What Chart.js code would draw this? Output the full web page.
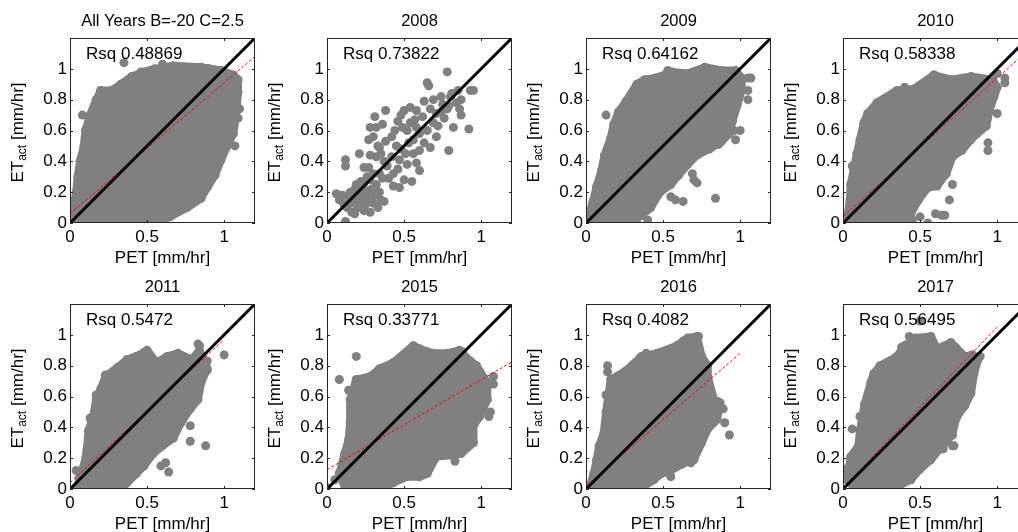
<!DOCTYPE html>
<html>
<head>
<meta charset="utf-8">
<script src="https://cdn.jsdelivr.net/npm/chart.js@4.4.1/dist/chart.umd.min.js"></script>
<style>
  html, body { margin: 0; padding: 0; background: #fff; }
  #wrap { position: relative; width: 1018px; height: 532px; overflow: hidden; }
  #wrap canvas { position: absolute; }
</style>
</head>
<body>
<div id="wrap"></div>
<script>
// ─── Data ──────────────────────────────────────────────────────────────────
const titles = ["All Years B=-20 C=2.5", "2008", "2009", "2010", "2011", "2015", "2016", "2017"];
const rsqValues = ["0.48869", "0.73822", "0.64162", "0.58338", "0.5472", "0.33771", "0.4082", "0.56495"];
const xTicks = [0, 0.5, 1];
const yTicks = [0, 0.2, 0.4, 0.6, 0.8, 1];
const identity = [[0, 0], [1.2, 1.2]];

// Dense point clouds: outline of the solid region (PET, ETact), plus loose points.
const cloudAll = [[0.02,0.0],[0.3,0.0],[0.55,0.0],[0.65,0.04],[0.76,0.10],[0.85,0.16],[0.89,0.23],[0.94,0.31],[0.98,0.41],[1.02,0.50],[1.06,0.58],[1.08,0.73],[1.09,0.85],[1.09,0.93],[1.06,0.96],[0.98,0.99],[0.85,1.01],[0.67,1.02],[0.55,1.0],[0.48,0.98],[0.40,0.95],[0.33,0.90],[0.27,0.86],[0.20,0.86],[0.17,0.80],[0.13,0.70],[0.10,0.60],[0.09,0.50],[0.065,0.40],[0.05,0.30],[0.04,0.20],[0.02,0.10],[0.01,0.03]];
const dotsAll = [[0.35,1.04],[0.46,0.98],[1.10,0.74],[1.09,0.68],[1.07,0.50],[0.84,0.16],[0.55,0.0],[0.08,0.70],[0.20,0.86],[1.08,0.93],[0.60,1.03],[0.90,1.0]];
const fitAll = [[0, 0.06], [1.2, 1.08]];

const dots2008 = [[0.12,0.01],[0.06,0.19],[0.08,0.15],[0.10,0.18],[0.11,0.12],[0.13,0.10],[0.14,0.16],[0.15,0.20],[0.16,0.07],[0.17,0.13],[0.18,0.06],[0.18,0.22],[0.19,0.17],[0.20,0.10],[0.21,0.23],[0.22,0.14],[0.23,0.19],[0.24,0.08],[0.24,0.26],[0.25,0.12],[0.26,0.21],[0.27,0.16],[0.28,0.07],[0.28,0.28],[0.29,0.22],[0.30,0.13],[0.31,0.18],[0.32,0.25],[0.33,0.10],[0.34,0.20],[0.35,0.15],[0.37,0.14],[0.36,0.29],[0.30,0.32],[0.26,0.30],[0.22,0.27],[0.19,0.25],
  [0.12,0.41],[0.12,0.37],[0.21,0.45],[0.24,0.36],[0.27,0.54],[0.28,0.62],[0.30,0.56],[0.31,0.69],[0.32,0.62],[0.36,0.64],[0.38,0.73],[0.33,0.50],[0.35,0.45],[0.28,0.44],
  [0.27,0.36],[0.32,0.43],[0.34,0.49],[0.38,0.53],[0.42,0.56],[0.45,0.50],[0.42,0.43],[0.39,0.37],[0.34,0.32],[0.43,0.32],[0.47,0.41],[0.51,0.45],[0.56,0.45],[0.50,0.28],[0.55,0.27],[0.60,0.34],[0.58,0.39],[0.47,0.23],[0.43,0.24],[0.40,0.29],[0.46,0.35],[0.52,0.38],[0.48,0.48],[0.53,0.52],[0.37,0.40],[0.44,0.60],[0.49,0.62],
  [0.50,0.73],[0.54,0.75],[0.58,0.73],[0.63,0.79],[0.69,0.80],[0.74,0.82],[0.65,0.91],[0.66,0.89],[0.78,0.98],[0.80,0.82],[0.84,0.78],[0.87,0.80],[0.85,0.86],[0.93,0.86],[0.95,0.86],[0.87,0.70],[0.82,0.62],[0.76,0.68],[0.71,0.71],[0.69,0.65],[0.65,0.60],[0.60,0.58],[0.58,0.62],[0.54,0.65],[0.52,0.60],[0.56,0.54],[0.63,0.52],[0.71,0.56],[0.78,0.74],[0.75,0.77],[0.81,0.84],[0.62,0.69],[0.67,0.74],[0.72,0.63],[0.60,0.47],[0.67,0.49],[0.79,0.47],[0.92,0.61],[0.79,0.76],[0.74,0.72],[0.86,0.74],[0.57,0.67],[0.48,0.70],[0.46,0.66]];
const fit2008 = [[0.1, 0.1], [0.96, 0.96]];

const cloud2009 = [[0.02,0.0],[0.28,0.0],[0.36,0.05],[0.42,0.10],[0.48,0.20],[0.55,0.25],[0.60,0.31],[0.66,0.38],[0.72,0.44],[0.80,0.48],[0.88,0.53],[0.93,0.58],[0.95,0.66],[0.98,0.76],[1.01,0.86],[1.01,0.94],[0.97,0.99],[0.88,0.99],[0.77,1.01],[0.66,0.97],[0.56,0.98],[0.45,0.94],[0.38,0.93],[0.33,0.90],[0.26,0.79],[0.21,0.72],[0.18,0.64],[0.16,0.55],[0.12,0.44],[0.10,0.34],[0.07,0.24],[0.045,0.14],[0.02,0.05]];
const dots2009 = [[0.07,0.23],[0.13,0.70],[0.69,0.32],[0.70,0.28],[0.63,0.14],[0.58,0.15],[0.55,0.17],[0.84,0.16],[0.96,0.60],[1.00,0.60],[0.97,0.54],[1.05,0.94],[1.07,0.94],[1.05,0.86],[1.05,0.80],[0.53,0.99],[0.33,0.88],[0.30,0.76],[0.72,0.26],[0.66,0.40],[0.79,0.50],[0.86,0.51],[0.40,0.02],[0.33,0.0]];
const fit2009 = [[0, 0], [1.2, 1.205]];

const cloud2010 = [[0.05,0.0],[0.38,0.0],[0.44,0.06],[0.49,0.15],[0.55,0.23],[0.61,0.24],[0.67,0.32],[0.71,0.43],[0.77,0.47],[0.83,0.54],[0.87,0.58],[0.93,0.63],[0.95,0.73],[0.98,0.82],[1.00,0.88],[0.97,0.93],[0.83,0.95],[0.70,0.93],[0.59,0.96],[0.46,0.87],[0.35,0.86],[0.22,0.78],[0.16,0.71],[0.135,0.65],[0.11,0.54],[0.09,0.45],[0.07,0.35],[0.05,0.25],[0.045,0.15],[0.03,0.05]];
const dots2010 = [[0.06,0.37],[0.23,0.76],[0.64,0.05],[0.66,0.05],[0.60,0.06],[0.55,0.0],[0.69,0.15],[0.71,0.25],[0.94,0.47],[0.94,0.52],[1.00,0.71],[1.05,0.91],[1.05,0.94],[1.00,0.97],[0.59,0.96],[0.40,0.88],[0.33,0.84],[0.20,0.65],[0.45,0.02],[0.50,0.04]];
const fit2010 = [[0, 0.04], [1.2, 1.12]];

const cloud2011 = [[0.05,0.0],[0.30,0.0],[0.37,0.04],[0.43,0.10],[0.48,0.15],[0.54,0.23],[0.60,0.28],[0.67,0.33],[0.72,0.43],[0.78,0.52],[0.83,0.58],[0.85,0.69],[0.89,0.78],[0.84,0.90],[0.79,0.84],[0.70,0.88],[0.63,0.86],[0.56,0.82],[0.50,0.90],[0.43,0.86],[0.37,0.84],[0.31,0.79],[0.23,0.73],[0.20,0.65],[0.17,0.58],[0.15,0.47],[0.12,0.38],[0.11,0.26],[0.09,0.15],[0.06,0.07]];
const dots2011 = [[0.04,0.12],[0.17,0.61],[0.13,0.46],[0.23,0.74],[0.83,0.94],[0.84,0.93],[1.0,0.87],[0.89,0.83],[0.89,0.77],[0.78,0.41],[0.78,0.31],[0.88,0.28],[0.64,0.11],[0.62,0.17],[0.59,0.15],[0.54,0.27],[0.38,0.82],[0.45,0.84],[0.67,0.86],[0.35,0.02]];
const fit2011 = [[0, 0.04], [1.0, 0.97]];

const cloud2015 = [[0.12,0.0],[0.34,0.0],[0.43,0.04],[0.52,0.08],[0.60,0.08],[0.65,0.10],[0.71,0.21],[0.83,0.22],[0.87,0.23],[0.95,0.30],[0.95,0.41],[0.99,0.47],[1.04,0.58],[1.04,0.69],[0.97,0.80],[0.93,0.83],[0.86,0.90],[0.78,0.88],[0.69,0.88],[0.60,0.91],[0.56,0.93],[0.43,0.82],[0.34,0.78],[0.28,0.73],[0.19,0.71],[0.15,0.58],[0.15,0.43],[0.14,0.32],[0.115,0.23],[0.08,0.10]];
const dots2015 = [[0.0,0.01],[0.05,0.06],[0.08,0.10],[0.08,0.71],[0.19,0.86],[0.14,0.64],[0.19,0.70],[1.08,0.68],[1.08,0.73],[1.06,0.50],[1.05,0.47],[0.83,0.18],[0.50,0.09],[0.47,0.08],[0.55,0.11],[0.62,0.09],[0.88,0.89],[0.91,0.82],[0.55,0.91],[0.96,0.56]];
const fit2015 = [[0, 0.125], [1.2, 0.825]];

const cloud2016 = [[0.12,0.0],[0.35,0.0],[0.44,0.06],[0.49,0.10],[0.55,0.12],[0.62,0.16],[0.70,0.19],[0.75,0.30],[0.79,0.39],[0.85,0.45],[0.87,0.56],[0.83,0.58],[0.79,0.73],[0.79,0.80],[0.75,0.86],[0.72,0.99],[0.66,0.98],[0.59,0.93],[0.46,0.88],[0.40,0.87],[0.35,0.85],[0.25,0.76],[0.16,0.71],[0.13,0.50],[0.115,0.36],[0.085,0.28],[0.07,0.19],[0.05,0.10],[0.03,0.03]];
const dots2016 = [[0.14,0.80],[0.14,0.76],[0.13,0.61],[0.07,0.19],[0.93,0.35],[0.90,0.43],[0.89,0.52],[0.55,0.08],[0.70,0.20],[0.68,0.17],[0.73,0.99],[0.63,0.96],[0.39,0.88],[0.36,0.86],[0.80,0.59],[0.85,0.57],[0.0,0.0]];
const fit2016 = [[0, 0.02], [1.0, 0.88]];

const cloud2017 = [[0.08,0.0],[0.28,0.0],[0.36,0.02],[0.44,0.06],[0.50,0.13],[0.57,0.19],[0.66,0.30],[0.71,0.35],[0.72,0.41],[0.74,0.47],[0.79,0.54],[0.83,0.62],[0.85,0.75],[0.88,0.85],[0.84,0.87],[0.79,0.86],[0.70,0.95],[0.61,0.91],[0.57,0.99],[0.47,0.98],[0.40,0.93],[0.35,0.86],[0.24,0.80],[0.20,0.75],[0.18,0.69],[0.14,0.55],[0.11,0.38],[0.10,0.28],[0.05,0.21],[0.026,0.06]];
const dots2017 = [[0.50,1.09],[0.43,0.99],[0.38,0.92],[0.06,0.39],[0.11,0.47],[0.71,0.28],[0.72,0.28],[0.84,0.87],[0.86,0.83],[0.89,0.86],[0.05,0.18],[0.02,0.13],[0.65,0.26],[0.56,0.95],[0.73,0.92]];
const fit2017 = [[0, 0.01], [1.0, 1.05]];

const clouds = [cloudAll, [], cloud2009, cloud2010, cloud2011, cloud2015, cloud2016, cloud2017];
const dots = [dotsAll, dots2008, dots2009, dots2010, dots2011, dots2015, dots2016, dots2017];
const fits = [fitAll, fit2008, fit2009, fit2010, fit2011, fit2015, fit2016, fit2017];

// ─── Look ──────────────────────────────────────────────────────────────────
const FONT = '"Liberation Sans", Arial, Helvetica, sans-serif';
const GRAY = "#808080";
const DOT_R = 4.5;
const colLeft = [0, 257, 516, 773];
const rowTop = [0, 266];

const toXY = (pairs) => pairs.map(([x, y]) => ({ x, y }));

// Box, inward tick marks, title, Rsq note and axis titles (MATLAB look)
function panelDecor(title, rsq) {
  return {
    id: "panelDecor",
    afterDraw(chart) {
      const { ctx, chartArea: a, scales } = chart;
      const cx = (a.left + a.right) / 2;
      ctx.save();
      ctx.strokeStyle = "#262626";
      ctx.lineWidth = 1;
      ctx.strokeRect(a.left + 0.5, a.top + 0.5, a.right - a.left - 1, a.bottom - a.top - 1);
      ctx.beginPath();
      xTicks.forEach((v) => {
        const p = Math.round(scales.x.getPixelForValue(v)) + 0.5;
        ctx.moveTo(p, a.bottom); ctx.lineTo(p, a.bottom - 3);
        ctx.moveTo(p, a.top); ctx.lineTo(p, a.top + 3);
      });
      yTicks.forEach((v) => {
        const p = Math.round(scales.y.getPixelForValue(v)) + 0.5;
        ctx.moveTo(a.left, p); ctx.lineTo(a.left + 3, p);
        ctx.moveTo(a.right, p); ctx.lineTo(a.right - 3, p);
      });
      ctx.stroke();

      ctx.fillStyle = "#000";
      ctx.textAlign = "center";
      ctx.textBaseline = "middle";
      ctx.font = `16.5px ${FONT}`;
      ctx.fillText(title, cx, a.top - 17);
      ctx.font = `17px ${FONT}`;
      ctx.fillText("PET [mm/hr]", cx, a.bottom + 35);
      ctx.textAlign = "left";
      ctx.fillText("Rsq " + rsq, a.left + 16, a.top + 16);

      // y title with subscript
      const big = `17px ${FONT}`, small = `12px ${FONT}`;
      ctx.translate(a.left - 52, (a.top + a.bottom) / 2 + 2);
      ctx.rotate(-Math.PI / 2);
      ctx.font = big;
      const w1 = ctx.measureText("ET").width;
      const w3 = ctx.measureText(" [mm/hr]").width;
      ctx.font = small;
      const w2 = ctx.measureText("act").width;
      const x0 = -(w1 + w2 + w3) / 2;
      ctx.font = big; ctx.fillText("ET", x0, 0);
      ctx.font = small; ctx.fillText("act", x0 + w1, 5);
      ctx.font = big; ctx.fillText(" [mm/hr]", x0 + w1 + w2, 0);
      ctx.restore();
    },
  };
}

function axis(ticksArr, isX) {
  return {
    type: "linear",
    min: 0,
    max: 1.2,
    grid: { display: false, drawTicks: false },
    border: { display: false },
    ticks: { color: "#000", font: { family: FONT, size: 17 }, padding: isX ? 4 : 3, callback: (v) => String(v) },
    afterBuildTicks: (s) => { s.ticks = ticksArr.map((v) => ({ value: v })); },
    afterFit: (s) => { if (isX) s.height = 43; else s.width = 70; },
  };
}

function makePanel(i) {
  const canvas = document.createElement("canvas");
  canvas.width = 260;
  canvas.height = 266;
  canvas.style.left = colLeft[i % 4] + "px";
  canvas.style.top = rowTop[Math.floor(i / 4)] + "px";
  document.getElementById("wrap").appendChild(canvas);

  const datasets = [
    { data: toXY(identity), borderColor: "#000", borderWidth: 3, pointRadius: 0, order: 0, clip: 0 },
    { data: toXY(fits[i]), borderColor: "#ff0000", borderWidth: 1, borderDash: [3, 2], pointRadius: 0, order: 1, clip: 0 },
    { data: toXY(dots[i]), showLine: false, pointRadius: DOT_R, pointBackgroundColor: GRAY, pointBorderWidth: 0, order: 2, clip: 0 },
  ];
  if (clouds[i].length) {
    const outline = toXY(clouds[i]);
    outline.push(outline[0]);
    datasets.push({
      data: outline, fill: "shape", backgroundColor: GRAY, borderColor: GRAY, borderWidth: 8,
      borderJoinStyle: "round", borderCapStyle: "round",
      pointRadius: DOT_R, pointBackgroundColor: GRAY, pointBorderWidth: 0, order: 3, clip: 0,
    });
  }

  new Chart(canvas, {
    type: "line",
    data: { datasets },
    options: {
      responsive: false,
      animation: false,
      events: [],
      devicePixelRatio: 1,
      layout: { padding: { left: 0, top: 38, right: 5, bottom: 0 } },
      elements: { line: { tension: 0 } },
      scales: { x: axis(xTicks, true), y: axis(yTicks, false) },
      plugins: { legend: { display: false }, tooltip: { enabled: false } },
    },
    plugins: [panelDecor(titles[i], rsqValues[i])],
  });
}

titles.forEach((_, i) => makePanel(i));
</script>
</body>
</html>
